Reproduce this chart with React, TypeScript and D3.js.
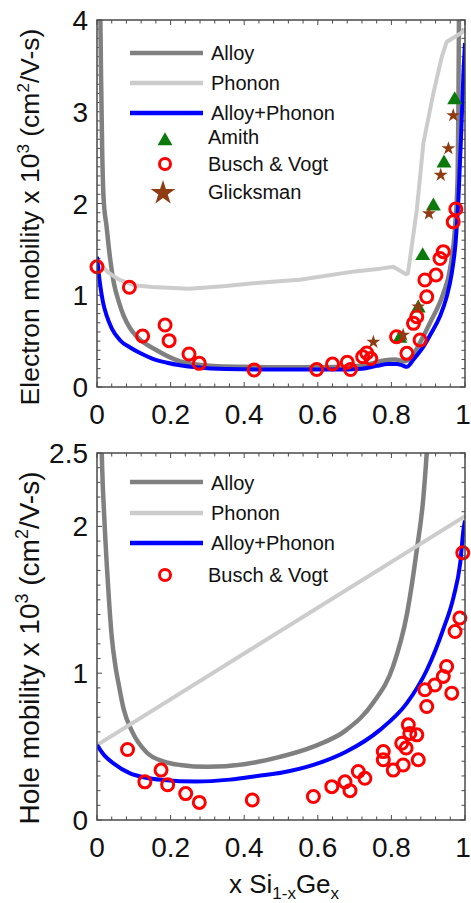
import React from 'react';
import * as d3 from 'd3';

type P = [number, number];

const xTickValues = [0, 0.2, 0.4, 0.6, 0.8, 1];
const xTickLabels = ['0', '0.2', '0.4', '0.6', '0.8', '1'];
const eYTickValues = [0, 1, 2, 3, 4];
const eYTickLabels = ['0', '1', '2', '3', '4'];
const hYTickValues = [0, 1, 2, 2.5];
const hYTickLabels = ['0', '1', '2', '2.5'];

// Electron mobility panel
const eAlloy: P[] = [
  [0.008, 4.4], [0.011, 3.4], [0.014, 2.6], [0.018, 2.05], [0.026, 1.75], [0.035, 1.42],
  [0.045, 1.15], [0.06, 0.92], [0.072, 0.78], [0.09, 0.64], [0.108, 0.55], [0.162, 0.4],
  [0.226, 0.28], [0.316, 0.23], [0.4, 0.22], [0.5, 0.215], [0.6, 0.215], [0.7, 0.225],
  [0.75, 0.26], [0.78, 0.29], [0.81, 0.3], [0.835, 0.28], [0.855, 0.33], [0.88, 0.5],
  [0.905, 0.7], [0.941, 1.02], [0.959, 1.28], [0.973, 1.75], [0.98, 2.29], [0.982, 3.0],
  [0.984, 4.3],
];
const ePhonon: P[] = [
  [0, 1.38], [0.03, 1.25], [0.06, 1.17], [0.1, 1.11], [0.15, 1.09], [0.25, 1.07],
  [0.35, 1.1], [0.45, 1.14], [0.55, 1.17], [0.6, 1.2], [0.7, 1.26], [0.77, 1.29],
  [0.805, 1.31], [0.84, 1.23], [0.845, 1.24], [0.869, 1.93], [0.887, 2.66], [0.914, 3.2],
  [0.937, 3.6], [0.95, 3.76], [0.986, 3.85], [1.0, 3.89],
];
const eAlloyPhonon: P[] = [
  [0, 1.42], [0.008, 1.13], [0.016, 0.93], [0.026, 0.78], [0.04, 0.64], [0.0625, 0.51],
  [0.09, 0.43], [0.117, 0.37], [0.15, 0.31], [0.19, 0.265], [0.23, 0.235], [0.27, 0.215],
  [0.35, 0.195], [0.45, 0.19], [0.55, 0.19], [0.65, 0.19], [0.72, 0.2], [0.76, 0.23],
  [0.79, 0.25], [0.815, 0.25], [0.83, 0.235], [0.842, 0.22], [0.86, 0.3], [0.887, 0.44],
  [0.91, 0.6], [0.932, 0.77], [0.95, 0.98], [0.964, 1.24], [0.975, 1.6], [0.982, 2.04],
  [0.99, 2.8], [0.996, 3.45], [1.0, 3.75],
];
const eAmith: P[] = [
  [0.972, 3.13], [0.943, 2.44], [0.914, 1.97], [0.885, 1.43], [0.873, 0.86], [0.823, 0.53],
];
const eBusch: P[] = [
  [0, 1.31], [0.088, 1.087], [0.124, 0.556], [0.185, 0.676], [0.196, 0.505], [0.25, 0.36],
  [0.278, 0.258], [0.427, 0.185], [0.597, 0.19], [0.64, 0.25], [0.68, 0.27], [0.689, 0.19],
  [0.722, 0.33], [0.733, 0.37], [0.744, 0.31], [0.814, 0.548], [0.842, 0.367], [0.86, 0.694],
  [0.869, 0.766], [0.878, 0.512], [0.896, 0.984], [0.891, 1.166], [0.921, 1.22], [0.932, 1.4],
  [0.941, 1.475], [0.968, 1.8], [0.975, 1.94],
];
const eGlicksman: P[] = [
  [0.968, 2.96], [0.955, 2.6], [0.934, 2.31], [0.902, 1.89], [0.873, 0.875], [0.832, 0.567],
  [0.751, 0.49],
];

// Hole mobility panel
const hAlloy: P[] = [
  [0.011, 2.7], [0.014, 2.4], [0.02, 2.05], [0.03, 1.6], [0.04, 1.25], [0.05, 1.05],
  [0.06, 0.91], [0.072, 0.76], [0.096, 0.6], [0.135, 0.46], [0.18, 0.4], [0.226, 0.375],
  [0.3, 0.362], [0.4, 0.38], [0.497, 0.43], [0.588, 0.5], [0.678, 0.614], [0.751, 0.8],
  [0.805, 1.05], [0.842, 1.4], [0.869, 1.84], [0.887, 2.2], [0.896, 2.5], [0.902, 2.75],
];
const hPhonon: P[] = [[0, 0.51], [1, 2.07]];
const hAlloyPhonon: P[] = [
  [0, 0.51], [0.02, 0.44], [0.044, 0.387], [0.09, 0.318], [0.13, 0.29], [0.18, 0.273],
  [0.27, 0.262], [0.361, 0.275], [0.45, 0.305], [0.5, 0.322], [0.588, 0.375], [0.678, 0.466],
  [0.769, 0.614], [0.842, 0.796], [0.896, 1.02], [0.941, 1.3], [0.969, 1.52], [0.987, 1.75],
  [0.996, 1.98], [1.0, 2.04],
];
const hBusch: P[] = [
  [0.083, 0.48], [0.13, 0.26], [0.174, 0.34], [0.192, 0.24], [0.241, 0.18], [0.278, 0.12],
  [0.422, 0.136], [0.588, 0.16], [0.638, 0.227], [0.674, 0.26], [0.6875, 0.2], [0.71, 0.33],
  [0.728, 0.284], [0.778, 0.466], [0.778, 0.41], [0.805, 0.34], [0.828, 0.523], [0.832, 0.375],
  [0.84, 0.49], [0.846, 0.648], [0.85, 0.59], [0.869, 0.58], [0.873, 0.41], [0.891, 0.887],
  [0.896, 0.773], [0.918, 0.92], [0.941, 0.978], [0.95, 1.046], [0.964, 0.864], [0.973, 1.284],
  [0.986, 1.376], [0.994, 1.82],
];

const FONT = 'Liberation Sans, Arial, Helvetica, sans-serif';
const C_ALLOY = '#808080';
const C_PHONON = '#cccccc';
const C_BLUE = '#0000ff';
const C_RED = '#ff0000';
const C_GREEN = '#0b7a0b';
const C_BROWN = '#8f3c12';
const C_FRAME = '#4a4a4a';

const X0 = 97;
const X1 = 465;

const triPath = d3.symbol().type(d3.symbolTriangle).size(97)() as string;
const starSmall = d3.symbol().type(d3.symbolStar).size(60)() as string;
const starBig = d3.symbol().type(d3.symbolStar).size(190)() as string;

interface PanelProps {
  id: string;
  top: number;
  bottom: number;
  yMax: number;
  yTicks: number[];
  yLabels: string[];
  alloy: P[];
  phonon: P[];
  both: P[];
  busch: P[];
  amith?: P[];
  glicks?: P[];
  titleMain: string;
  titleCenter: number;
  titleSize: number;
  legend: {
    lineY: number[];
    textY: number[];
    markers: { kind: 'tri' | 'circ' | 'star'; y: number; ty: number; label: string }[];
  };
}

function Panel(p: PanelProps) {
  const x = d3.scaleLinear().domain([0, 1]).range([X0, X1]);
  const y = d3.scaleLinear().domain([0, p.yMax]).range([p.bottom, p.top]);
  const mk = (curve: d3.CurveFactory) =>
    d3.line<P>().x((d) => x(d[0])).y((d) => y(d[1])).curve(curve);
  const smooth = mk(d3.curveMonotoneX);
  const lin = mk(d3.curveLinear);

  const xMinor = d3.range(0, 1.0001, 0.04);
  const yMinor = d3.range(0, p.yMax + 0.0001, 0.1);
  const tMin = 3.5;
  const tMaj = 5;
  const isMajX = (v: number) => xTickValues.some((t) => Math.abs(t - v) < 1e-6);
  const isMajY = (v: number) => p.yTicks.some((t) => Math.abs(t - v) < 1e-6);

  const legendLabels = ['Alloy', 'Phonon', 'Alloy+Phonon'];
  const legendColors = [C_ALLOY, C_PHONON, C_BLUE];
  const ts = p.titleSize;
  const ss = Math.round(ts * 0.65);
  const sh = Math.round(ts * 0.38);

  return (
    <g>
      <defs>
        <clipPath id={p.id}>
          <rect x={X0} y={p.top} width={X1 - X0} height={p.bottom - p.top} />
        </clipPath>
      </defs>
      <g stroke={C_FRAME} strokeWidth={1}>
        {xMinor.map((v, i) => {
          const L = isMajX(v) ? tMaj : tMin;
          return (
            <g key={'xt' + i}>
              <line x1={x(v)} x2={x(v)} y1={p.bottom} y2={p.bottom - L} />
              <line x1={x(v)} x2={x(v)} y1={p.top} y2={p.top + L} />
            </g>
          );
        })}
        {yMinor.map((v, i) => {
          const L = isMajY(v) ? tMaj : tMin;
          return (
            <g key={'yt' + i}>
              <line x1={X0} x2={X0 + L} y1={y(v)} y2={y(v)} />
              <line x1={X1} x2={X1 - L} y1={y(v)} y2={y(v)} />
            </g>
          );
        })}
      </g>
      <g clipPath={`url(#${p.id})`} fill="none" strokeLinejoin="round">
        <path d={smooth(p.alloy) as string} stroke={C_ALLOY} strokeWidth={4.5} />
        <path d={lin(p.phonon) as string} stroke={C_PHONON} strokeWidth={4} />
        <path d={smooth(p.both) as string} stroke={C_BLUE} strokeWidth={4} />
      </g>
      {p.amith &&
        p.amith.map((d, i) => (
          <path key={'a' + i} d={triPath} transform={`translate(${x(d[0])},${y(d[1])})`} fill={C_GREEN} />
        ))}
      {p.busch.map((d, i) => (
        <circle key={'b' + i} cx={x(d[0])} cy={y(d[1])} r={6} fill="none" stroke={C_RED} strokeWidth={3} />
      ))}
      {p.glicks &&
        p.glicks.map((d, i) => (
          <path key={'g' + i} d={starSmall} transform={`translate(${x(d[0])},${y(d[1])})`} fill={C_BROWN} />
        ))}
      <rect x={X0} y={p.top} width={X1 - X0} height={p.bottom - p.top} fill="none" stroke={C_FRAME} strokeWidth={1.5} />
      <g fontFamily={FONT} fontSize={28} fill="#111">
        {xTickValues.map((v, i) => (
          <text key={'xl' + i} x={i === xTickValues.length - 1 ? x(v) - 2 : x(v)} y={p.bottom + 37} textAnchor="middle">
            {xTickLabels[i]}
          </text>
        ))}
        {p.yTicks.map((v, i) => (
          <text key={'yl' + i} x={88} y={y(v) + 10} textAnchor="end">
            {p.yLabels[i]}
          </text>
        ))}
      </g>
      <text
        transform={`translate(39,${p.titleCenter}) rotate(-90)`}
        textAnchor="middle"
        fontFamily={FONT}
        fontSize={ts}
        fill="#111"
      >
        {p.titleMain} x 10
        <tspan fontSize={ss} dy={-sh}>3</tspan>
        <tspan dy={sh}> (cm</tspan>
        <tspan fontSize={ss} dy={-sh}>2</tspan>
        <tspan dy={sh}>/V-s)</tspan>
      </text>
      <g fontFamily={FONT} fontSize={20} fill="#111">
        {legendLabels.map((lab, i) => (
          <g key={'lg' + i}>
            <line x1={130} x2={203} y1={p.legend.lineY[i]} y2={p.legend.lineY[i]} stroke={legendColors[i]} strokeWidth={4.5} />
            <text x={211} y={p.legend.textY[i]}>{lab}</text>
          </g>
        ))}
        {p.legend.markers.map((m, i) => (
          <g key={'lm' + i}>
            {m.kind === 'tri' && <path d={triPath} transform={`translate(165,${m.y})`} fill={C_GREEN} />}
            {m.kind === 'circ' && <circle cx={165} cy={m.y} r={5.5} fill="none" stroke={C_RED} strokeWidth={3} />}
            {m.kind === 'star' && <path d={starBig} transform={`translate(163,${m.y})`} fill={C_BROWN} />}
            <text x={208} y={m.ty}>{m.label}</text>
          </g>
        ))}
      </g>
    </g>
  );
}

export default function App() {
  return (
    <svg
      width={471}
      height={903}
      viewBox="0 0 471 903"
      style={{ position: 'absolute', left: 0, top: 0, background: '#fff' }}
    >
      <rect x={0} y={0} width={471} height={903} fill="#fff" />
      <Panel
        id="clipE"
        top={20}
        bottom={387}
        yMax={4}
        yTicks={eYTickValues}
        yLabels={eYTickLabels}
        alloy={eAlloy}
        phonon={ePhonon}
        both={eAlloyPhonon}
        busch={eBusch}
        amith={eAmith}
        glicks={eGlicksman}
        titleMain="Electron mobility"
        titleCenter={217}
        titleSize={26.5}
        legend={{
          lineY: [53, 83, 113],
          textY: [60, 90, 120],
          markers: [
            { kind: 'tri', y: 141, ty: 144, label: 'Amith' },
            { kind: 'circ', y: 164, ty: 171, label: 'Busch & Vogt' },
            { kind: 'star', y: 193, ty: 199, label: 'Glicksman' },
          ],
        }}
      />
      <Panel
        id="clipH"
        top={453}
        bottom={820}
        yMax={2.5}
        yTicks={hYTickValues}
        yLabels={hYTickLabels}
        alloy={hAlloy}
        phonon={hPhonon}
        both={hAlloyPhonon}
        busch={hBusch}
        titleMain="Hole mobility"
        titleCenter={648}
        titleSize={28}
        legend={{
          lineY: [482, 513, 543],
          textY: [490, 520, 550],
          markers: [{ kind: 'circ', y: 575, ty: 582, label: 'Busch & Vogt' }],
        }}
      />
      <text x={284} y={893} textAnchor="middle" fontFamily={FONT} fontSize={26} fill="#111">
        x Si
        <tspan fontSize={17} dy={6}>1-x</tspan>
        <tspan dy={-6}>Ge</tspan>
        <tspan fontSize={17} dy={6}>x</tspan>
      </text>
    </svg>
  );
}
